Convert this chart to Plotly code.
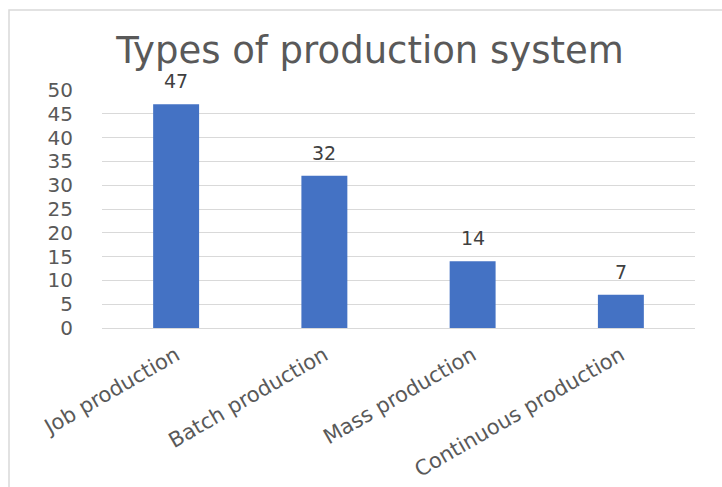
import plotly.graph_objects as go

categories = ["Job production", "Batch production", "Mass production", "Continuous production"]
values = [47, 32, 14, 7]
y_ticks = [0, 5, 10, 15, 20, 25, 30, 35, 40, 45, 50]

FONT = "DejaVu Sans"

fig = go.Figure()
fig.add_trace(go.Bar(
    x=categories, y=values,
    marker=dict(color="#4472C4", line=dict(width=0)),
    width=0.31,
    hoverinfo="x+y",
))

for c, v in zip(categories, values):
    fig.add_annotation(x=c, y=v, text=str(v), showarrow=False,
                       yanchor="bottom", yshift=10,
                       font=dict(family=FONT, size=19, color="#404040"))

# chart border (light gray, as in the screenshot)
fig.add_shape(type="rect", xref="paper", yref="paper",
              x0=(9 - 102) / 593, x1=1.2, y0=-1.0, y1=(328 - 10) / 238,
              line=dict(color="#d9d9d9", width=1.5), fillcolor="rgba(0,0,0,0)",
              layer="below")

fig.update_layout(
    width=722, height=487,
    margin=dict(l=102, r=27, t=90, b=159, autoexpand=False),
    paper_bgcolor="white", plot_bgcolor="white",
    showlegend=False,
    title=dict(text="Types of production system", x=370 / 722, xanchor="center",
               xref="container", y=1 - 50 / 487, yref="container", yanchor="middle",
               font=dict(family=FONT, size=37, color="#595959")),
    xaxis=dict(tickangle=-30, showgrid=False, showline=False, ticks="",
               automargin=False,
               tickfont=dict(family=FONT, size=21, color="#595959"),
               ticklabelstandoff=10),
    yaxis=dict(range=[0, 50], tickvals=y_ticks, showgrid=True, gridcolor="#d9d9d9",
               gridwidth=1, zeroline=True, zerolinecolor="#d9d9d9", zerolinewidth=1,
               showline=False, ticks="", automargin=False,
               tickfont=dict(family=FONT, size=20, color="#595959"),
               ticklabelstandoff=28),
)

fig.write_html("out.html")
